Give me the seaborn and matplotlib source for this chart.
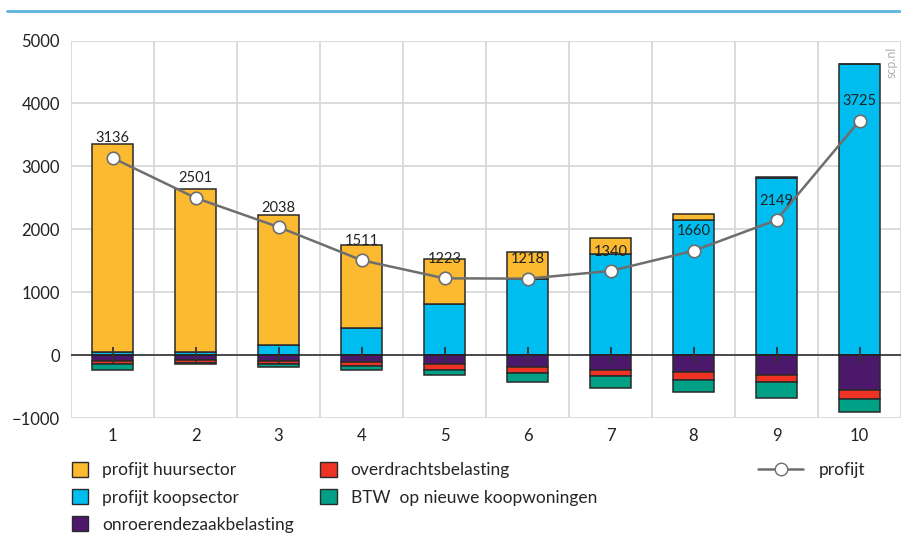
import numpy as np
import pandas as pd
import matplotlib.pyplot as plt
import seaborn as sns
from matplotlib.lines import Line2D
from matplotlib.patches import Patch

# inkomensdecielen
deciles = [1, 2, 3, 4, 5, 6, 7, 8, 9, 10]
huur = [3310, 2590, 2060, 1310, 710, 425, 255, 90, 20, 0]
koop = [50, 50, 165, 440, 820, 1218, 1605, 2150, 2809, 4625]
ozb = [-85, -70, -90, -105, -140, -185, -225, -270, -305, -545]
overdracht = [-45, -45, -55, -70, -85, -90, -110, -125, -120, -145]
btw = [-95, -25, -40, -65, -82, -150, -185, -185, -255, -210]
profijt = [3136, 2501, 2038, 1511, 1223, 1218, 1340, 1660, 2149, 3725]

c_huur = "#fcba30"
c_koop = "#00bdf0"
c_ozb = "#4b186c"
c_overdr = "#ee3224"
c_btw = "#00a086"
edge = "#2a2a2a"


def main():
    sns.set_style("white")
    plt.rcParams["font.family"] = ["Lato", "DejaVu Sans"]

    df = pd.DataFrame({"decile": deciles, "huur": huur, "koop": koop,
                       "ozb": ozb, "overdracht": overdracht, "btw": btw})

    fig = plt.figure(figsize=(9.01, 5.39), dpi=100)
    ax = fig.add_axes([71 / 901, 1 - 418.3 / 539, 830 / 901, 377.8 / 539])

    bar_kw = dict(width=0.5, saturation=1, errorbar=None, edgecolor=edge,
                  linewidth=1.1, ax=ax, zorder=2)
    sns.barplot(data=df, x="decile", y="koop", color=c_koop, **bar_kw)
    sns.barplot(data=df, x="decile", y="huur", color=c_huur,
                bottom=df["koop"].values, **bar_kw)
    sns.barplot(data=df, x="decile", y="ozb", color=c_ozb, **bar_kw)
    sns.barplot(data=df, x="decile", y="overdracht", color=c_overdr,
                bottom=df["ozb"].values, **bar_kw)
    sns.barplot(data=df, x="decile", y="btw", color=c_btw,
                bottom=(df["ozb"] + df["overdracht"]).values, **bar_kw)

    pos = np.arange(len(deciles))
    ax.axhline(0, color="#222222", lw=1.1, zorder=3)
    ax.plot(pos, np.zeros(len(pos)), ls="none", marker="|", markersize=11.5,
            mew=1.3, color="#333333", zorder=4)

    sns.lineplot(x=pos, y=profijt, color="#6e6e6e", lw=1.8, marker="o",
                 markersize=9, markerfacecolor="white", markeredgecolor="#6e6e6e",
                 markeredgewidth=1.2, ax=ax, zorder=5)
    for i, v in enumerate(profijt):
        ax.annotate(str(v), (i, v), xytext=(0, 14), textcoords="offset points",
                    ha="center", va="center", fontsize=10.5, color="#222222",
                    zorder=6)

    ax.set_xlim(-0.5, 9.46)
    ax.set_ylim(-1000, 5000)
    ax.set_yticks(range(-1000, 5001, 1000))
    ax.set_xticks(pos, [str(d) for d in deciles])
    ax.set_xticks(np.arange(-0.5, 10, 1), minor=True)
    ax.set_axisbelow(True)
    ax.grid(which="minor", axis="x", color="#d9d9d9", lw=1.3)
    ax.grid(which="major", axis="y", color="#d9d9d9", lw=1.3)
    ax.grid(which="major", axis="x", visible=False)
    for s in ax.spines.values():
        s.set_visible(False)
    ax.tick_params(axis="both", which="both", length=0, labelsize=12,
                   colors="#222222")
    ax.tick_params(axis="y", pad=8)
    ax.tick_params(axis="x", pad=7)
    ax.set_xlabel("")
    ax.set_ylabel("")

    fig.add_artist(Line2D([7 / 901, 1], [1 - 11 / 539] * 2,
                          transform=fig.transFigure, color="#5bb4e1", lw=2))
    fig.text(892 / 901, 1 - 62 / 539, "scp.nl", rotation=90, color="#b0b0b0",
             fontsize=9, ha="center", va="center")

    leg_font = {"family": ["Lato", "DejaVu Sans"], "size": 12.5}
    handles = [
        Patch(facecolor=c_huur, edgecolor=edge, label="profijt huursector"),
        Patch(facecolor=c_koop, edgecolor=edge, label="profijt koopsector"),
        Patch(facecolor=c_ozb, edgecolor=edge, label="onroerendezaakbelasting"),
        Patch(facecolor=c_overdr, edgecolor=edge, label="overdrachtsbelasting"),
        Patch(facecolor=c_btw, edgecolor=edge, label="BTW  op nieuwe koopwoningen"),
    ]
    fig.legend(handles=handles, loc="upper left", ncol=2, frameon=False,
               bbox_to_anchor=(72 / 901, 1 - 462 / 539), borderpad=0,
               borderaxespad=0, handlelength=0.95, handleheight=0.95,
               handletextpad=0.8, columnspacing=1.5, labelspacing=0.62,
               prop=leg_font)
    line_h = Line2D([], [], color="#6e6e6e", lw=1.8, marker="o", markersize=9,
                    markerfacecolor="white", markeredgecolor="#6e6e6e",
                    label="profijt")
    fig.legend(handles=[line_h], loc="upper left", frameon=False,
               bbox_to_anchor=(758 / 901, 1 - 462 / 539), borderpad=0,
               borderaxespad=0, handlelength=2.6, handletextpad=0.9,
               prop=leg_font)

    fig.savefig("out.png", dpi=100)


if __name__ == "__main__":
    main()
